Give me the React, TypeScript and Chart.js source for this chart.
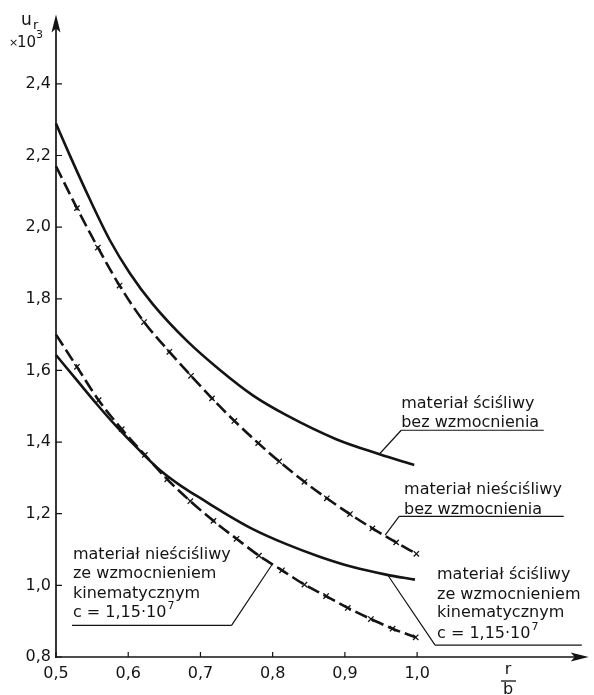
import React, { useEffect, useRef } from "react";
import { Chart, registerables } from "chart.js";

Chart.register(...registerables);

// Axis ticks
const xTickValues = [0.5, 0.6, 0.7, 0.8, 0.9, 1.0];
const yTickValues = [0.8, 1.0, 1.2, 1.4, 1.6, 1.8, 2.0, 2.2, 2.4];

// materiał ściśliwy bez wzmocnienia (solid, upper)
const rA = [0.5, 0.519, 0.547, 0.575, 0.602, 0.634, 0.681, 0.727, 0.772, 0.819, 0.888, 0.948, 0.996];
const uA = [2.289, 2.201, 2.077, 1.962, 1.872, 1.785, 1.683, 1.601, 1.531, 1.475, 1.408, 1.366, 1.336];

// materiał nieściśliwy bez wzmocnienia (dashed + x, upper)
const rB = [0.5, 0.529, 0.558, 0.588, 0.622, 0.657, 0.687, 0.716, 0.747, 0.78, 0.809, 0.844, 0.875, 0.907, 0.938, 0.971, 0.999];
const uB = [2.17, 2.053, 1.943, 1.837, 1.735, 1.652, 1.585, 1.522, 1.459, 1.397, 1.346, 1.289, 1.243, 1.199, 1.159, 1.12, 1.088];

// materiał nieściśliwy ze wzmocnieniem kinematycznym (dashed + x, lower)
const rC = [0.5, 0.529, 0.559, 0.591, 0.623, 0.654, 0.686, 0.718, 0.75, 0.781, 0.813, 0.844, 0.874, 0.904, 0.936, 0.966, 0.998];
const uC = [1.7, 1.61, 1.517, 1.436, 1.364, 1.296, 1.235, 1.18, 1.13, 1.083, 1.042, 1.002, 0.97, 0.937, 0.906, 0.879, 0.855];

// materiał ściśliwy ze wzmocnieniem kinematycznym (solid, lower)
const rD = [0.5, 0.53, 0.556, 0.584, 0.615, 0.645, 0.675, 0.705, 0.7265, 0.7725, 0.819, 0.865, 0.911, 0.957, 0.997];
const uD = [1.643, 1.57, 1.507, 1.443, 1.378, 1.32, 1.275, 1.237, 1.21, 1.157, 1.115, 1.08, 1.051, 1.03, 1.016];

// Annotation texts
const labelA = ["materiał ściśliwy", "bez wzmocnienia"];
const labelB = ["materiał nieściśliwy", "bez wzmocnienia"];
const labelC = ["materiał nieściśliwy", "ze wzmocnieniem", "kinematycznym", "c = 1,15·10"];
const labelD = ["materiał ściśliwy", "ze wzmocnieniem", "kinematycznym", "c = 1,15·10"];

const FONT = "'DejaVu Sans', sans-serif";
const INK = "#141414";

const pts = (xs: number[], ys: number[]) => xs.map((x, i) => ({ x, y: ys[i] }));
const markerRadii = (n: number) => Array.from({ length: n }, (_, i) => (i === 0 ? 0 : 3.8));

type Ann = {
  lines: string[];
  textX: number;
  baselines: number[];
  underY: number;
  underX0: number;
  underX1: number;
  leadFrom: [number, number];
  leadTo: [number, number];
  sup?: boolean;
};

// annotation geometry in data units
const annotations: Ann[] = [
  { lines: labelA, textX: 0.978, baselines: [1.496, 1.441], underY: 1.433, underX0: 0.978, underX1: 1.1754, leadFrom: [0.978, 1.433], leadTo: [0.9475, 1.366] },
  { lines: labelB, textX: 0.982, baselines: [1.256, 1.2], underY: 1.1924, underX0: 0.9751, underX1: 1.203, leadFrom: [0.9751, 1.1924], leadTo: [0.9558, 1.14] },
  { lines: labelD, textX: 1.0276, baselines: [1.0183, 0.963, 0.9105, 0.8525], underY: 0.8332, underX0: 1.0249, underX1: 1.228, leadFrom: [1.0249, 0.8332], leadTo: [0.9586, 1.031], sup: true },
  { lines: labelC, textX: 0.5235, baselines: [1.0736, 1.021, 0.9658, 0.9105], underY: 0.8884, underX0: 0.5221, underX1: 0.7431, leadFrom: [0.7431, 0.8884], leadTo: [0.7997, 1.0597], sup: true },
];

const fmt = (v: number) => v.toFixed(1).replace(".", ",");

const decorPlugin = {
  id: "decor",
  afterDraw(chart: any) {
    const { ctx, chartArea, scales } = chart;
    const xs = scales.x;
    const ys = scales.y;
    const L = chartArea.left;
    const B = chartArea.bottom;
    const T = chartArea.top;
    const R = chartArea.right;
    ctx.save();
    ctx.strokeStyle = INK;
    ctx.fillStyle = INK;
    ctx.lineCap = "butt";

    // axes
    ctx.lineWidth = 1.7;
    ctx.beginPath();
    ctx.moveTo(L, B + 1);
    ctx.lineTo(L, T + 10);
    ctx.moveTo(L - 1, B);
    ctx.lineTo(R - 10, B);
    ctx.stroke();
    // arrows
    ctx.beginPath();
    ctx.moveTo(L, T);
    ctx.lineTo(L - 4.5, T + 18);
    ctx.lineTo(L, T + 14);
    ctx.lineTo(L + 4.5, T + 18);
    ctx.closePath();
    ctx.fill();
    ctx.beginPath();
    ctx.moveTo(R, B);
    ctx.lineTo(R - 18, B - 4.5);
    ctx.lineTo(R - 14, B);
    ctx.lineTo(R - 18, B + 4.5);
    ctx.closePath();
    ctx.fill();

    // inward ticks
    ctx.lineWidth = 1.2;
    ctx.beginPath();
    yTickValues.forEach((v) => {
      const p = ys.getPixelForValue(v);
      ctx.moveTo(L, p);
      ctx.lineTo(L + 6, p);
    });
    xTickValues.forEach((v) => {
      const p = xs.getPixelForValue(v);
      ctx.moveTo(p, B);
      ctx.lineTo(p, B - 5);
    });
    ctx.stroke();

    // y axis title u_r x10^3
    ctx.textBaseline = "alphabetic";
    ctx.textAlign = "left";
    ctx.font = `17px ${FONT}`;
    ctx.fillText("u", 21, 25);
    ctx.font = `13px ${FONT}`;
    ctx.fillText("r", 33, 29);
    ctx.font = `11px ${FONT}`;
    ctx.fillText("×", 9, 46);
    ctx.font = `15px ${FONT}`;
    ctx.fillText("10", 17, 47);
    ctx.font = `11px ${FONT}`;
    ctx.fillText("3", 36, 38);

    // x axis title r/b
    ctx.font = `16px ${FONT}`;
    ctx.textAlign = "center";
    ctx.fillText("r", 508, 674);
    ctx.lineWidth = 1.3;
    ctx.beginPath();
    ctx.moveTo(501, 681);
    ctx.lineTo(516, 681);
    ctx.stroke();
    ctx.fillText("b", 508, 694);

    // annotations
    ctx.lineWidth = 1.2;
    annotations.forEach((a) => {
      ctx.beginPath();
      ctx.moveTo(xs.getPixelForValue(a.underX0), ys.getPixelForValue(a.underY));
      ctx.lineTo(xs.getPixelForValue(a.underX1), ys.getPixelForValue(a.underY));
      ctx.moveTo(xs.getPixelForValue(a.leadFrom[0]), ys.getPixelForValue(a.leadFrom[1]));
      ctx.lineTo(xs.getPixelForValue(a.leadTo[0]), ys.getPixelForValue(a.leadTo[1]));
      ctx.stroke();
      ctx.textAlign = "left";
      const tx = xs.getPixelForValue(a.textX);
      a.lines.forEach((line, i) => {
        const by = ys.getPixelForValue(a.baselines[i]);
        ctx.font = `16px ${FONT}`;
        ctx.fillText(line, tx, by);
        if (a.sup && i === a.lines.length - 1) {
          const w = ctx.measureText(line).width;
          ctx.font = `11px ${FONT}`;
          ctx.fillText("7", tx + w + 1, by - 8);
        }
      });
    });
    ctx.restore();
  },
};

export default function App() {
  const ref = useRef<HTMLCanvasElement | null>(null);
  useEffect(() => {
    if (!ref.current) return;
    const lineBase = {
      borderColor: INK,
      backgroundColor: INK,
      fill: false,
      cubicInterpolationMode: "monotone" as const,
      clip: 6,
    };
    const chart = new Chart(ref.current, {
      type: "line",
      data: {
        datasets: [
          { ...lineBase, label: "A", data: pts(rA, uA), borderWidth: 2.6, pointRadius: 0 },
          {
            ...lineBase,
            label: "B",
            data: pts(rB, uB),
            borderWidth: 2.6,
            borderDash: [13, 5],
            pointStyle: "crossRot",
            pointRadius: markerRadii(rB.length),
            pointBorderWidth: 1.3,
            pointBorderColor: INK,
          },
          {
            ...lineBase,
            label: "C",
            data: pts(rC, uC),
            borderWidth: 2.6,
            borderDash: [13, 5],
            pointStyle: "crossRot",
            pointRadius: markerRadii(rC.length),
            pointBorderWidth: 1.3,
            pointBorderColor: INK,
          },
          { ...lineBase, label: "D", data: pts(rD, uD), borderWidth: 2.6, pointRadius: 0 },
        ],
      },
      options: {
        animation: false,
        responsive: false,
        devicePixelRatio: 1,
        layout: { padding: { top: 8, right: 4, left: 0, bottom: 0 } },
        plugins: { legend: { display: false }, tooltip: { enabled: false } },
        scales: {
          x: {
            type: "linear",
            min: 0.5,
            max: 1.2376,
            grid: { display: false, drawTicks: false },
            border: { display: false },
            afterBuildTicks: (s: any) => {
              s.ticks = xTickValues.map((v) => ({ value: v }));
            },
            afterFit: (s: any) => {
              s.height = 38;
            },
            ticks: {
              callback: (v: any) => fmt(Number(v)),
              font: { family: FONT, size: 16 },
              color: INK,
              padding: 7,
              maxRotation: 0,
            },
          },
          y: {
            type: "linear",
            min: 0.8,
            max: 2.5933,
            grid: { display: false, drawTicks: false },
            border: { display: false },
            afterBuildTicks: (s: any) => {
              s.ticks = yTickValues.map((v) => ({ value: v }));
            },
            afterFit: (s: any) => {
              s.width = 56;
            },
            ticks: {
              callback: (v: any) => fmt(Number(v)),
              font: { family: FONT, size: 16 },
              color: INK,
              padding: 5,
            },
          },
        },
      },
      plugins: [decorPlugin],
    });
    return () => chart.destroy();
  }, []);
  return (
    <div style={{ position: "absolute", left: 0, top: 0, width: 594, height: 695, background: "#fff" }}>
      <canvas ref={ref} width={594} height={695} style={{ display: "block" }} />
    </div>
  );
}
